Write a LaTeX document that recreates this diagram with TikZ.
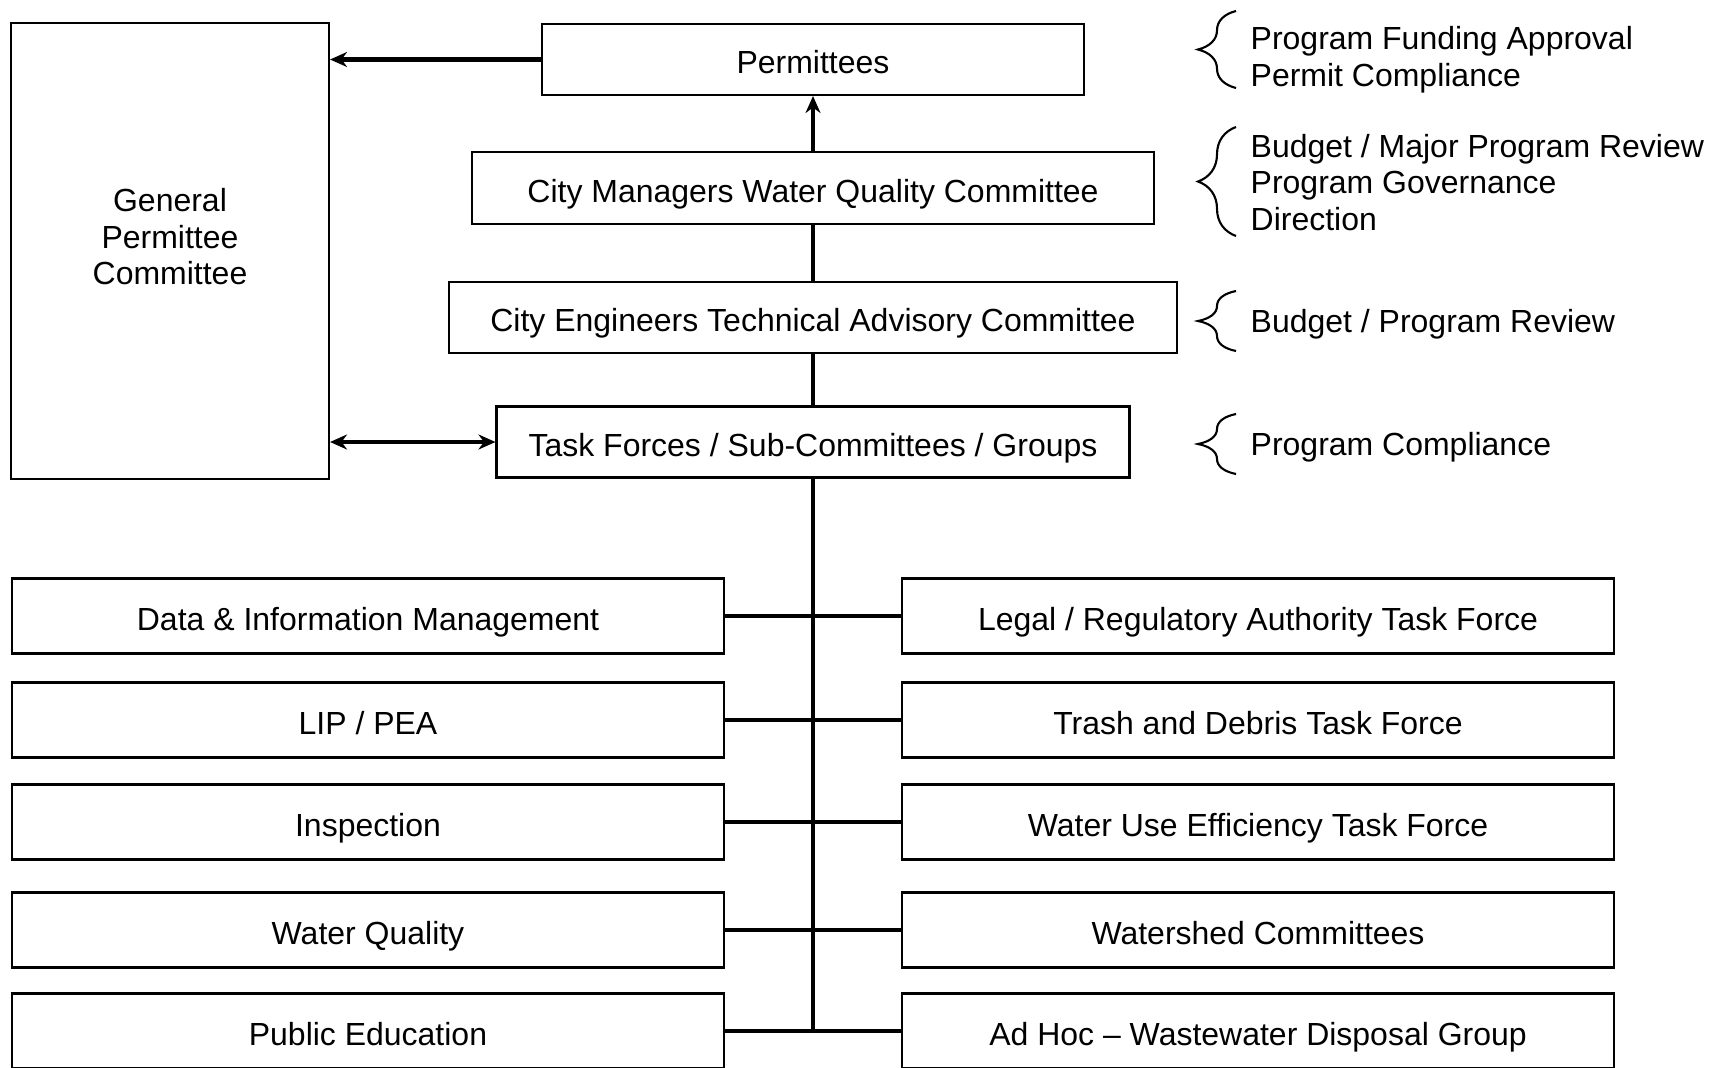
\documentclass[tikz,border=0pt]{standalone}
\usepackage{fontspec}
\setmainfont{Liberation Sans}
\usetikzlibrary{arrows.meta,decorations.pathreplacing}

\tikzset{
  box/.style={draw, line width=0.6pt, minimum height=0.71cm, inner sep=0pt,
    text height=8.6pt, text depth=0.5pt},
  unit/.style={box, minimum width=7.12cm, minimum height=0.75cm},
  link/.style={line width=1.2pt},
  arr/.style={link, -{Stealth[length=1.7mm,width=1.5mm]}},
  twoarr/.style={link, {Stealth[length=1.7mm,width=1.5mm]}-{Stealth[length=1.7mm,width=1.5mm]}},
  note/.style={anchor=west, align=left, inner sep=0pt},
  curly/.style={decorate, decoration={brace, amplitude=0.38cm}, line width=0.6pt},
}

\begin{document}
\begin{tikzpicture}[font=\fontsize{9.1}{10.4}\selectfont]
  \useasboundingbox (0,0) rectangle (17.18,10.67);

  % committee chain
  \node[draw, line width=0.6pt, minimum width=3.18cm, minimum height=4.56cm] (gpc) at (1.70,8.16) {};
  \node[align=center] (gpclabel) at (1.70,8.30) {General\\Permittee\\Committee};
  \node[box, minimum width=5.42cm] (perm) at (8.13,10.075) {Permittees};
  \node[box, minimum width=6.82cm, minimum height=0.72cm] (cmwq) at (8.13,8.79) {City Managers Water Quality Committee};
  \node[box, minimum width=7.28cm] (cetac) at (8.13,7.495) {City Engineers Technical Advisory Committee};
  \node[box, minimum width=6.33cm] (tf) at (8.13,6.25) {Task Forces / Sub-Committees / Groups};

  % task forces, left column
  \node[unit] (data) at (3.68,4.51) {Data \& Information Management};
  \node[unit] (lip) at (3.68,3.47) {LIP / PEA};
  \node[unit] (insp) at (3.68,2.45) {Inspection};
  \node[unit] (wq) at (3.68,1.37) {Water Quality};
  \node[unit] (pubed) at (3.68,0.36) {Public Education};

  % task forces, right column
  \node[unit] (legal) at (12.58,4.51) {Legal / Regulatory Authority Task Force};
  \node[unit] (trash) at (12.58,3.47) {Trash and Debris Task Force};
  \node[unit] (wue) at (12.58,2.45) {Water Use Efficiency Task Force};
  \node[unit] (shed) at (12.58,1.37) {Watershed Committees};
  \node[unit] (adhoc) at (12.58,0.36) {Ad Hoc -- Wastewater Disposal Group};

  % links
  \draw[arr] (perm.west) -- (perm.west -| gpc.east);
  \draw[arr] (cmwq) -- (perm);
  \draw[link] (cmwq) -- (cetac);
  \draw[link] (cetac) -- (tf);
  \draw[twoarr] (tf.west -| gpc.east) -- (tf.west);
  \draw[link] (tf.south) -- (tf.south |- pubed.east);
  \draw[link] (data.east) -- (legal.west);
  \draw[link] (lip.east) -- (trash.west);
  \draw[link] (insp.east) -- (wue.west);
  \draw[link] (wq.east) -- (shed.west);
  \draw[link] (pubed.east) -- (adhoc.west);

  % responsibilities
  \draw[curly] (12.36,9.79) -- (12.36,10.56);
  \node[note] (fund) at (12.50,10.07) {Program Funding Approval\\Permit Compliance};
  \draw[curly] (12.36,8.31) -- (12.36,9.40);
  \node[note] (gov) at (12.50,8.845) {Budget / Major Program Review\\Program Governance\\Direction};
  \draw[curly] (12.36,7.16) -- (12.36,7.76);
  \node[note] (review) at (12.50,7.43) {Budget / Program Review};
  \draw[curly] (12.36,5.93) -- (12.36,6.53);
  \node[note] (comply) at (12.50,6.20) {Program Compliance};
\end{tikzpicture}
\end{document}
